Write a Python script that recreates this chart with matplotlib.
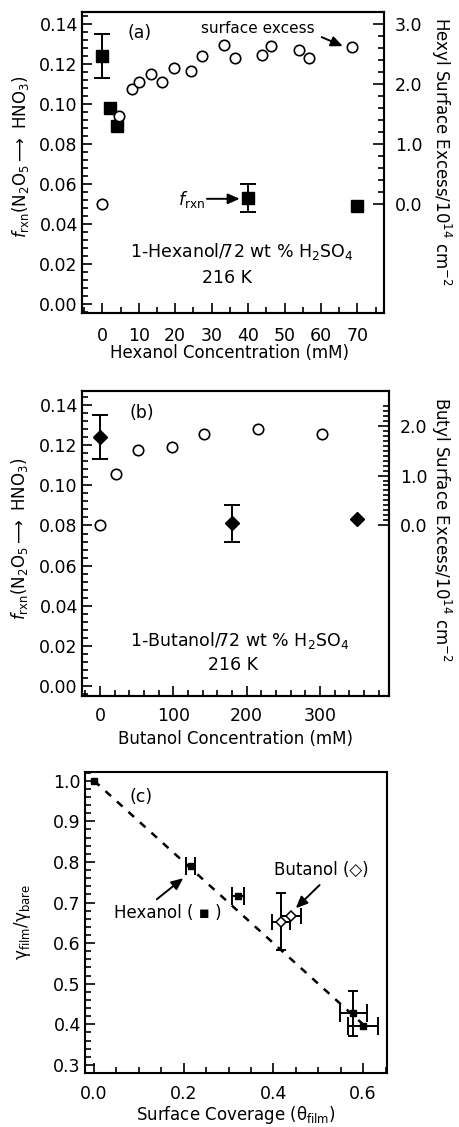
import matplotlib.pyplot as plt
from matplotlib.ticker import MultipleLocator, FixedLocator, FormatStrFormatter
import numpy as np

plt.rcParams['font.family'] = ['DejaVu Sans']
plt.rcParams['mathtext.fontset'] = 'dejavusans'
plt.rcParams['mathtext.default'] = 'regular'
plt.rcParams['font.size'] = 12

# ---- (a) 1-hexanol ----
hex_conc = [0, 2, 4, 40, 70]
hex_frxn = [0.124, 0.098, 0.089, 0.053, 0.049]
hex_frxn_err = [0.011, 0, 0, 0.007, 0]
hex_se_conc = [0, 4.6, 8.0, 10.1, 13.3, 16.5, 19.7, 24.3, 27.4, 33.3, 36.4, 43.7, 46.4, 53.9, 56.8, 68.6]
hex_se = [0.0, 1.46, 1.91, 2.04, 2.17, 2.04, 2.26, 2.21, 2.46, 2.65, 2.44, 2.49, 2.63, 2.56, 2.43, 2.61]

# ---- (b) 1-butanol ----
but_conc = [0, 180, 350]
but_frxn = [0.124, 0.081, 0.083]
but_frxn_err = [0.011, 0.009, 0]
but_se_conc = [0, 22, 52, 98, 142, 215, 302]
but_se = [0.0, 1.04, 1.51, 1.58, 1.84, 1.95, 1.84]

# ---- (c) gamma ratio vs coverage ----
hex_cov = [0.0, 0.216, 0.321, 0.578, 0.600]
hex_ratio = [1.0, 0.790, 0.716, 0.427, 0.396]
hex_cov_err = [0, 0.010, 0.014, 0.030, 0.033]
hex_ratio_err = [0, 0, 0, 0.055, 0]
but_cov = [0.417, 0.440]
but_ratio = [0.653, 0.668]
but_cov_err = [0.020, 0.022]
but_ratio_err = [0.070, 0]
fit_cov = [0.0, 0.6]
fit_ratio = [1.0, 0.4]

SPW = 1.5
EB = dict(fmt='none', ecolor='black', elinewidth=1.4, capthick=1.4)
ARROW = dict(arrowstyle='-|>,head_length=0.5,head_width=0.22', color='black', lw=1.4,
             mutation_scale=14, shrinkA=0, shrinkB=0)


def sub(x, idx):
    return [x[i] for i in idx]


def frame(ax):
    for s in ax.spines.values():
        s.set_linewidth(SPW)
    ax.tick_params(which='both', direction='in', width=1.2, labelsize=12.5,
                   top=False, right=False)
    ax.tick_params(which='major', length=7)
    ax.tick_params(which='minor', length=4)


def right_axis(ax2, lo, hi, step, minor):
    for s in ax2.spines.values():
        s.set_linewidth(SPW)
    ax2.yaxis.set_major_locator(FixedLocator(np.arange(lo, hi + 1e-9, step)))
    ax2.yaxis.set_minor_locator(FixedLocator(np.arange(lo, hi + 1e-9, minor)))
    ax2.yaxis.set_major_formatter(FormatStrFormatter('%.1f'))
    ax2.tick_params(which='both', direction='in', width=1.2, labelsize=12.5, pad=8)
    ax2.tick_params(which='major', length=8)
    ax2.tick_params(which='minor', length=4.5)


fig = plt.figure(figsize=(4.59, 11.27), dpi=100)

frxn_label = r'$\mathit{f}_{rxn}$(N$_2$O$_5$$\longrightarrow$ HNO$_3$)'

# ================= panel (a) =================
axa = fig.add_axes([0.1786, 0.7223, 0.658, 0.2671])
frame(axa)
axa.set_xlim(-5.6, 77.3)
axa.set_ylim(-0.0043, 0.146)
axa.xaxis.set_major_locator(MultipleLocator(10))
axa.xaxis.set_minor_locator(MultipleLocator(5))
axa.yaxis.set_major_locator(MultipleLocator(0.02))
axa.yaxis.set_minor_locator(MultipleLocator(0.004))
axa.yaxis.set_major_formatter(FormatStrFormatter('%.2f'))
axa.tick_params(axis='x', pad=10)
axa.tick_params(axis='y', pad=3)

idx = [i for i, e in enumerate(hex_frxn_err) if e]
axa.errorbar(sub(hex_conc, idx), sub(hex_frxn, idx), yerr=sub(hex_frxn_err, idx),
             capsize=6, zorder=2, **EB)
axa.plot(hex_conc, hex_frxn, 's', color='black', ms=8, zorder=3, clip_on=False)

axa.set_xlabel('Hexanol Concentration (mM)', va='center')
axa.xaxis.set_label_coords(0.49, -0.132)
axa.set_ylabel(frxn_label, va='center')
axa.yaxis.set_label_coords(-0.205, 0.52)

axa.text(10.2, 0.1357, '(a)', ha='center', va='center', fontsize=12.5)
axa.text(38.3, 0.0263, '1-Hexanol/72 wt % H$_2$SO$_4$', ha='center', va='center', fontsize=12.5)
axa.text(34.2, 0.013, '216 K', ha='center', va='center', fontsize=12.5)
axa.text(24.5, 0.0525, r'$\mathit{f}_{rxn}$', ha='center', va='center', fontsize=12.5)
axa.annotate('', xy=(37.7, 0.0527), xytext=(28.7, 0.0527), arrowprops=ARROW)

axa2 = axa.twinx()
right_axis(axa2, 0, 3.0, 1.0, 0.2)
axa2.set_ylim(-1.817, 3.2)
axa2.plot(hex_se_conc, hex_se, 'o', mfc='white', mec='black', mew=1.2, ms=7.5)
axa2.set_ylabel('Hexyl Surface Excess/10$^{14}$ cm$^{-2}$', rotation=270, va='center')
axa2.yaxis.set_label_coords(1.189, 0.535)
axa2.text(42.7, 2.92, 'surface excess', ha='center', va='center', fontsize=11)
axa2.annotate('', xy=(66.0, 2.63), xytext=(60.2, 2.78), arrowprops=ARROW)

# ================= panel (b) =================
axb = fig.add_axes([0.1786, 0.3824, 0.669, 0.2706])
frame(axb)
axb.set_xlim(-24.5, 394)
axb.set_ylim(-0.005, 0.147)
axb.xaxis.set_major_locator(MultipleLocator(100))
axb.xaxis.set_minor_locator(MultipleLocator(20))
axb.yaxis.set_major_locator(MultipleLocator(0.02))
axb.yaxis.set_minor_locator(MultipleLocator(0.004))
axb.yaxis.set_major_formatter(FormatStrFormatter('%.2f'))
axb.tick_params(axis='x', pad=8)
axb.tick_params(axis='y', pad=3)

idx = [i for i, e in enumerate(but_frxn_err) if e]
axb.errorbar(sub(but_conc, idx), sub(but_frxn, idx), yerr=sub(but_frxn_err, idx),
             capsize=6, zorder=2, **EB)
axb.plot(but_conc, but_frxn, 'D', color='black', ms=7, zorder=3, clip_on=False)

axb.set_xlabel('Butanol Concentration (mM)', va='center')
axb.xaxis.set_label_coords(0.501, -0.141)
axb.set_ylabel(frxn_label, va='center')
axb.yaxis.set_label_coords(-0.202, 0.516)

axb.text(57, 0.136, '(b)', ha='center', va='center', fontsize=12.5)
axb.text(191, 0.0225, '1-Butanol/72 wt % H$_2$SO$_4$', ha='center', va='center', fontsize=12.5)
axb.text(182, 0.0105, '216 K', ha='center', va='center', fontsize=12.5)

axb2 = axb.twinx()
right_axis(axb2, 0, 2.0, 1.0, 0.1)
axb2.yaxis.set_minor_locator(FixedLocator(np.arange(0, 2.41, 0.1)))
axb2.set_ylim(-3.455, 2.707)
axb2.plot(but_se_conc, but_se, 'o', mfc='white', mec='black', mew=1.2, ms=7.5)
axb2.set_ylabel('Butyl Surface Excess/10$^{14}$ cm$^{-2}$', rotation=270, va='center')
axb2.yaxis.set_label_coords(1.169, 0.546)

# ================= panel (c) =================
axc = fig.add_axes([0.1852, 0.0482, 0.6586, 0.2668])
frame(axc)
axc.set_xlim(-0.02, 0.654)
axc.set_ylim(0.281, 1.0214)
axc.xaxis.set_major_locator(MultipleLocator(0.2))
axc.xaxis.set_minor_locator(MultipleLocator(0.05))
axc.yaxis.set_major_locator(MultipleLocator(0.1))
axc.yaxis.set_minor_locator(MultipleLocator(0.02))
axc.xaxis.set_major_formatter(FormatStrFormatter('%.1f'))
axc.yaxis.set_major_formatter(FormatStrFormatter('%.1f'))
axc.tick_params(axis='x', pad=9)
axc.tick_params(axis='y', pad=3)

axc.plot(fit_cov, fit_ratio, color='black', lw=1.8, ls=(0, (3, 3.2)), zorder=1)

idx = [i for i, e in enumerate(hex_cov_err) if e]
axc.errorbar(sub(hex_cov, idx), sub(hex_ratio, idx), xerr=sub(hex_cov_err, idx),
             capsize=6.5, zorder=2, **EB)
idx = [i for i, e in enumerate(hex_ratio_err) if e]
axc.errorbar(sub(hex_cov, idx), sub(hex_ratio, idx), yerr=sub(hex_ratio_err, idx),
             capsize=3.5, zorder=2, **EB)
axc.plot(hex_cov, hex_ratio, 's', color='black', ms=4.5, zorder=3, clip_on=False)

axc.errorbar(but_cov, but_ratio, xerr=but_cov_err, capsize=5.5, zorder=2, **EB)
idx = [i for i, e in enumerate(but_ratio_err) if e]
axc.errorbar(sub(but_cov, idx), sub(but_ratio, idx), yerr=sub(but_ratio_err, idx),
             capsize=3.5, zorder=2, **EB)
axc.plot(but_cov, but_ratio, 'D', mfc='white', mec='black', mew=1.1, ms=5, zorder=3)

axc.set_xlabel(r'Surface Coverage ($\theta_{film}$)', va='center')
axc.xaxis.set_label_coords(0.499, -0.142)
axc.set_ylabel(r'$\gamma_{film}$/$\gamma_{bare}$', va='center')
axc.yaxis.set_label_coords(-0.208, 0.5)

axc.text(0.106, 0.96, '(c)', ha='center', va='center', fontsize=12.5)
axc.text(0.507, 0.78, 'Butanol (\u25C7)', ha='center', va='center', fontsize=12)
axc.annotate('', xy=(0.45, 0.686), xytext=(0.503, 0.743), arrowprops=ARROW)
axc.text(0.165, 0.674, 'Hexanol ( \u25AA )', ha='center', va='center', fontsize=12)
axc.annotate('', xy=(0.199, 0.760), xytext=(0.14, 0.708), arrowprops=ARROW)

fig.savefig('out.png', dpi=100)
